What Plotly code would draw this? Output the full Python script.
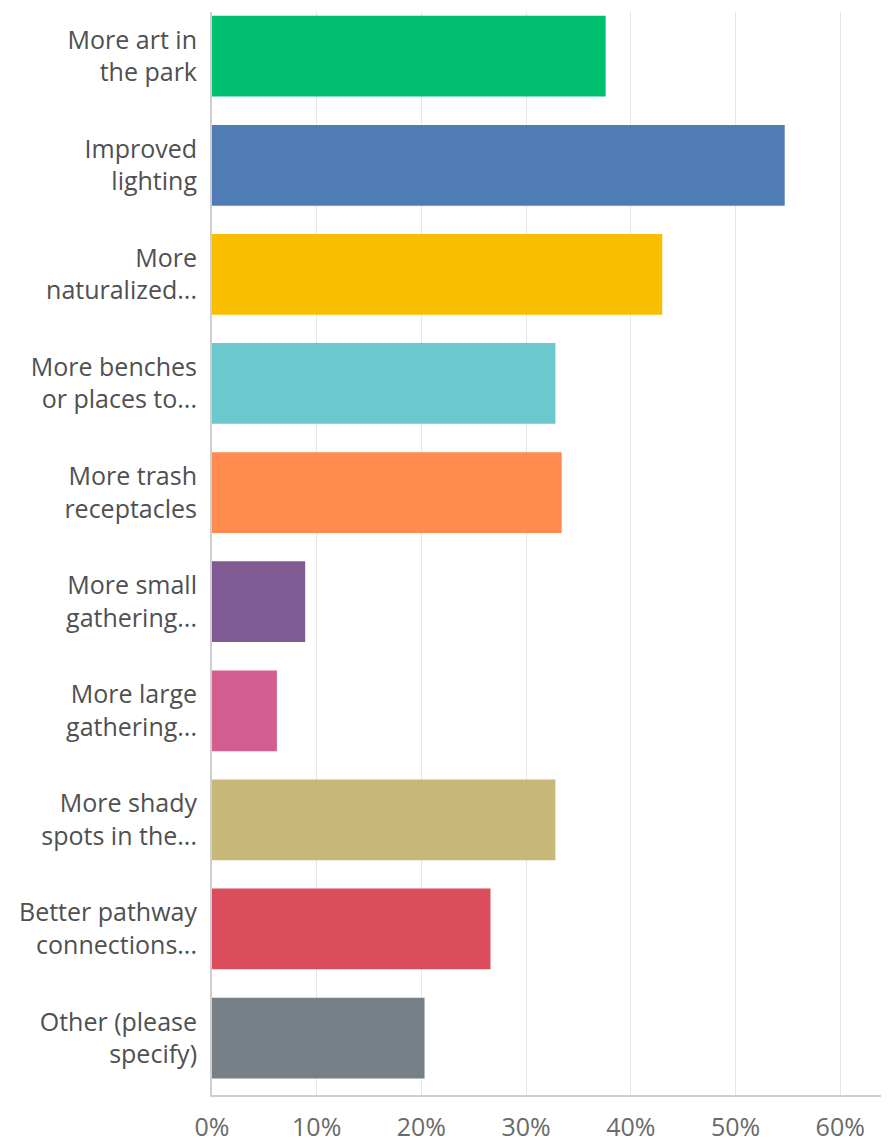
import plotly.graph_objects as go

categories = [
    "More art in<br>the park",
    "Improved<br>lighting",
    "More<br>naturalized...",
    "More benches<br>or places to...",
    "More trash<br>receptacles",
    "More small<br>gathering...",
    "More large<br>gathering...",
    "More shady<br>spots in the...",
    "Better pathway<br>connections...",
    "Other (please<br>specify)",
]
values = [37.6, 54.7, 43.0, 32.8, 33.4, 8.9, 6.2, 32.8, 26.6, 20.3]
colors = ["#00BF6F", "#507CB6", "#F9BE00", "#6BC8CD", "#FF8B4F",
          "#7F5A93", "#D25F90", "#C7B879", "#DB4D5C", "#768086"]
tick_vals = [0, 10, 20, 30, 40, 50, 60]
tick_text = ["0%", "10%", "20%", "30%", "40%", "50%", "60%"]

fig = go.Figure(go.Bar(
    x=values, y=categories, orientation="h",
    marker=dict(color=colors, line=dict(width=0)),
    hoverinfo="x+y",
))

# the page body adds an 8px offset, so the figure is sized to fit the window
fig.update_layout(
    width=881, height=1136,
    margin=dict(l=204, r=0, t=4, b=49, autoexpand=False),
    paper_bgcolor="white", plot_bgcolor="white",
    bargap=0.26,
    showlegend=False,
    font=dict(family="Open Sans", color="#555"),
)
fig.update_xaxes(
    range=[0, 64.66], tickvals=tick_vals, ticktext=tick_text,
    showgrid=True, gridcolor="#e6e6e6", gridwidth=1,
    showline=True, linecolor="#cfcfcf", linewidth=2,
    zeroline=False, tickfont=dict(size=25, color="#6a6a6a"),
    ticklabelstandoff=9,
)
fig.update_yaxes(
    range=[9.522, -0.405], showline=True, linecolor="#cfcfcf", linewidth=2,
    showgrid=False, tickfont=dict(size=25, color="#505050"),
    ticklabelstandoff=8,
)

fig.write_html("out.html")
